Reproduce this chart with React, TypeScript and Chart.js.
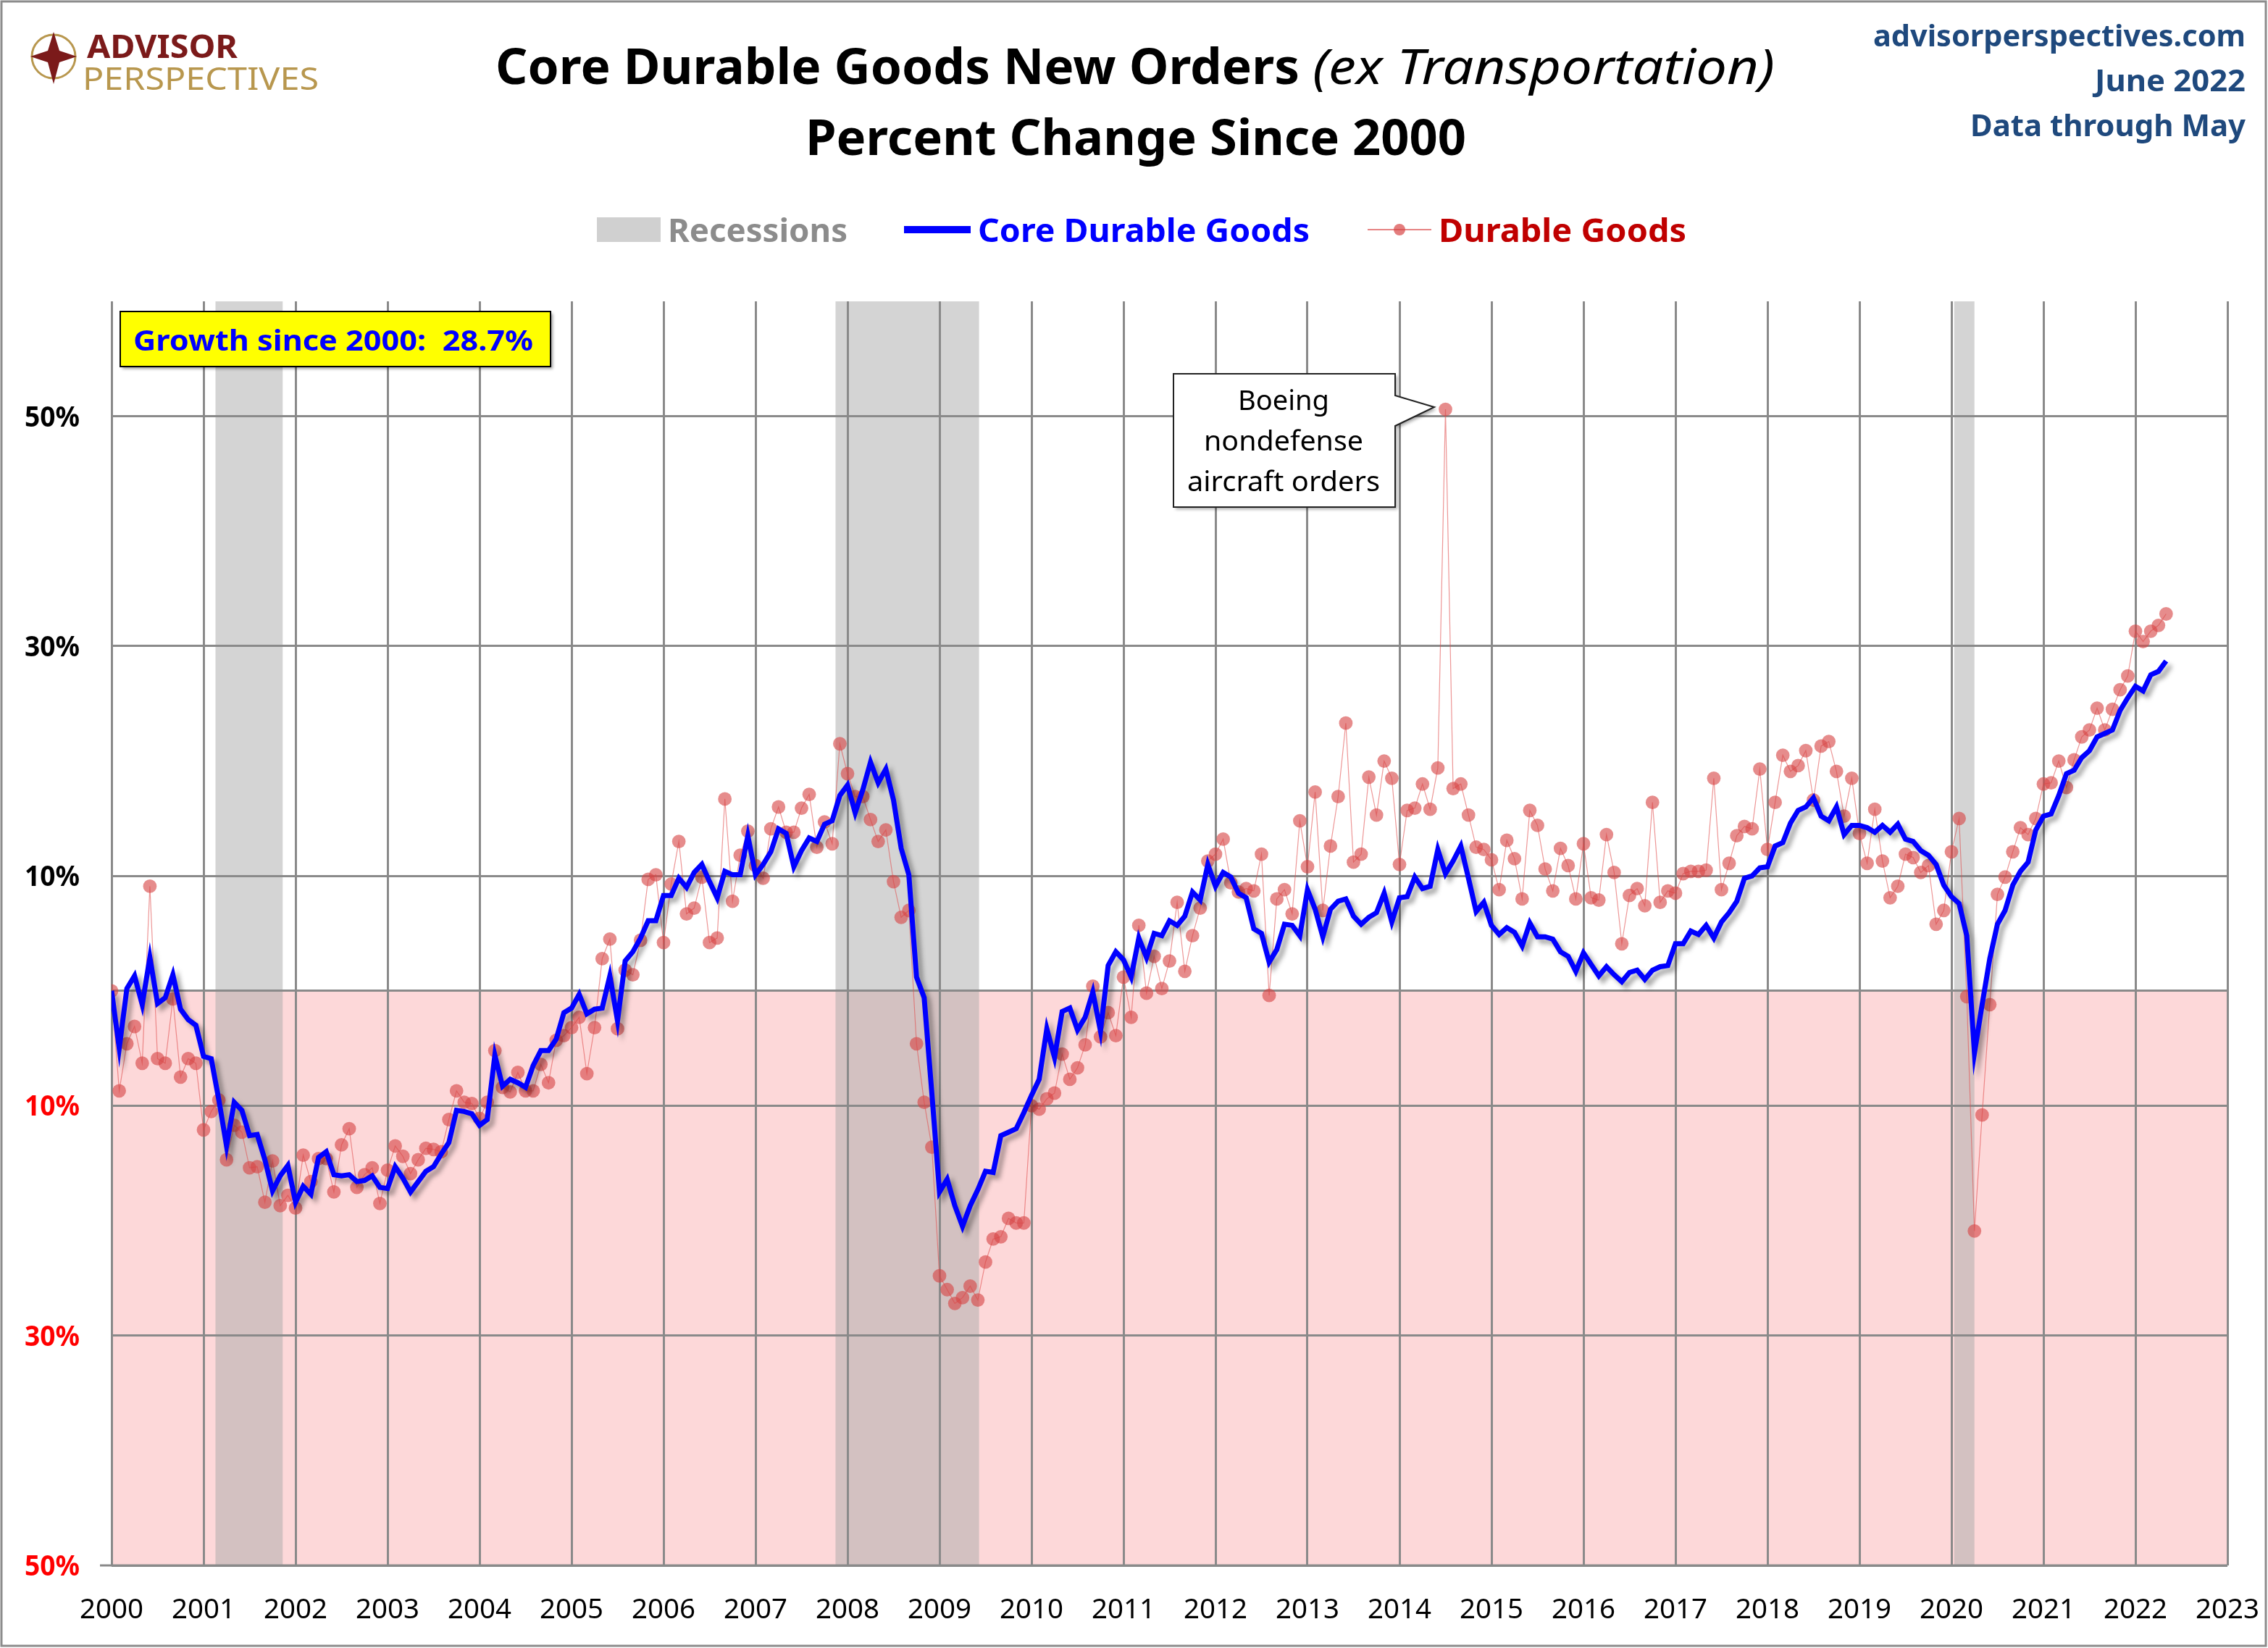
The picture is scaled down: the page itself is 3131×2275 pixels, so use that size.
import { useEffect, useRef } from 'react';
import { Chart, registerables } from 'chart.js';

Chart.register(...registerables);

// percent change since Jan 2000, monthly, Jan 2000 .. May 2022
const coreByYear: number[][] = [
  [0, -5, 0.2, 1.3, -1.2, 2.9, -1.1, -0.6, 1.4, -1.6, -2.5, -3.0],
  [-5.7, -5.9, -9.5, -13.5, -9.7, -10.4, -12.6, -12.5, -14.7, -17.4, -16.1, -15.2],
  [-18.4, -17, -17.7, -14.5, -14, -16, -16.1, -16, -16.6, -16.5, -16.1, -17.1],
  [-17.2, -15.3, -16.3, -17.5, -16.6, -15.7, -15.3, -14.2, -13.2, -10.4, -10.5, -10.7],
  [-11.7, -11.2, -5.6, -8.3, -7.7, -8, -8.4, -6.5, -5.2, -5.2, -4.2, -1.9],
  [-1.5, -0.3, -2.0, -1.6, -1.5, 1.3, -2.6, 2.6, 3.4, 4.6, 6.1, 6.1],
  [8.3, 8.3, 9.8, 9, 10.3, 11, 9.5, 8.1, 10.4, 10.1, 10.1, 13.5],
  [10.1, 11, 12.1, 14.1, 13.7, 10.8, 12.2, 13.3, 13, 14.5, 14.8, 17],
  [17.9, 15.5, 17.5, 19.9, 18.1, 19.3, 16.6, 12.4, 10.1, 1.2, -0.6, -8.9],
  [-17.5, -16.4, -18.7, -20.5, -18.7, -17.3, -15.7, -15.8, -12.6, -12.3, -12, -10.6],
  [-9.1, -7.7, -3.3, -5.8, -1.8, -1.5, -3.4, -2.3, -0.1, -3.5, 2.2, 3.4],
  [2.7, 1.2, 4.6, 2.9, 5, 4.8, 6.1, 5.7, 6.5, 8.6, 7.9, 11],
  [9.1, 10.3, 9.9, 8.5, 8.1, 5.4, 5, 2.5, 3.6, 5.8, 5.7, 4.8],
  [8.8, 7.1, 4.7, 7.1, 7.8, 8, 6.5, 5.8, 6.4, 6.8, 8.5, 6],
  [8.1, 8.2, 9.9, 8.9, 9.1, 12.3, 10.2, 11.3, 12.6, 9.8, 6.9, 7.7],
  [5.7, 4.9, 5.5, 5.1, 3.9, 5.9, 4.7, 4.7, 4.5, 3.4, 3, 1.7],
  [3.3, 2.3, 1.3, 2.1, 1.4, 0.8, 1.6, 1.8, 1, 1.8, 2.1, 2.2],
  [4.1, 4.1, 5.2, 4.9, 5.7, 4.6, 6, 6.8, 7.8, 9.8, 10, 10.7],
  [10.8, 12.6, 12.9, 14.6, 15.7, 16, 16.8, 15.2, 14.8, 16, 13.6, 14.4],
  [14.4, 14.2, 13.8, 14.4, 13.8, 14.5, 13.2, 13, 12.2, 11.8, 11, 9.2],
  [8.2, 7.6, 4.8, -5.4, -1.2, 2.8, 5.8, 7, 9.2, 10.4, 11.2, 14],
  [15.2, 15.4, 17, 18.9, 19.2, 20.3, 20.9, 22.1, 22.4, 22.7, 24.4, 25.5],
  [26.5, 26.1, 27.5, 27.8, 28.7],
];

const durableByYear: number[][] = [
  [0, -8.7, -4.6, -3.1, -6.3, 9.1, -5.9, -6.3, -0.7, -7.5, -5.9, -6.3],
  [-12.1, -10.5, -9.5, -14.7, -11.7, -12.3, -15.4, -15.3, -18.4, -14.8, -18.7, -17.8],
  [-18.9, -14.3, -16.6, -14.6, -14.6, -17.5, -13.4, -12, -17.1, -16, -15.4, -18.5],
  [-15.6, -13.5, -14.4, -15.9, -14.7, -13.7, -13.8, -14, -11.2, -8.7, -9.7, -9.8],
  [-11.1, -9.7, -5.2, -8.4, -8.8, -7.1, -8.7, -8.7, -6.4, -8, -4.3, -3.9],
  [-3.2, -2.3, -7.2, -3.2, 2.8, 4.5, -3.3, 1.8, 1.4, 4.4, 9.7, 10.1],
  [4.2, 9.3, 13, 6.7, 7.2, 9.9, 4.2, 4.6, 16.7, 7.8, 11.8, 13.9],
  [10.9, 9.8, 14.1, 16, 13.8, 13.8, 15.9, 17.1, 12.5, 14.7, 12.8, 21.5],
  [18.9, 16.9, 16.9, 14.9, 13, 14, 9.5, 6.4, 7, -4.6, -9.7, -13.6],
  [-24.8, -26, -27.2, -26.7, -25.7, -26.9, -23.6, -21.6, -21.4, -19.8, -20.2, -20.2],
  [-10, -10.3, -9.4, -8.9, -5.5, -7.7, -6.7, -4.7, 0.4, -4, -1.9, -3.9],
  [1.2, -2.3, 5.7, -0.2, 3, 0.2, 2.6, 7.7, 1.7, 4.8, 7.2, 11.3],
  [11.9, 13.2, 9.4, 8.6, 8.9, 8.7, 11.9, -0.4, 8, 8.8, 6.7, 14.8],
  [10.8, 17.3, 7, 12.6, 16.9, 23.3, 11.2, 11.9, 18.6, 15.3, 20, 18.5],
  [11, 15.7, 15.9, 18, 15.8, 19.4, 50.6, 17.6, 18, 15.3, 12.5, 12.3],
  [11.4, 8.8, 13.1, 11.5, 8, 15.7, 14.4, 10.6, 8.7, 12.4, 10.9, 8],
  [12.8, 8.1, 7.9, 13.6, 10.3, 4.1, 8.3, 8.9, 7.4, 16.4, 7.7, 8.7],
  [8.5, 10.2, 10.4, 10.4, 10.5, 18.5, 8.8, 11.1, 13.5, 14.3, 14.1, 19.3],
  [12.3, 16.4, 20.5, 19.1, 19.6, 20.9, 16.6, 21.3, 21.7, 19.1, 15.2, 18.5],
  [13.7, 11.1, 15.8, 11.3, 8.1, 9.1, 11.9, 11.6, 10.3, 10.9, 5.8, 7],
  [12.1, 15, -0.5, -20.9, -10.8, -1.2, 8.4, 9.9, 12.1, 14.2, 13.6, 15],
  [18, 18.1, 20, 17.7, 20.1, 22.1, 22.7, 24.6, 22.7, 24.5, 26.2, 27.4],
  [31.3, 30.4, 31.3, 31.8, 32.8],
];

const recessionStart = [2001.13, 2007.87, 2020.03];
const recessionEnd = [2001.86, 2009.43, 2020.25];
const yTicks = [-50, -30, -10, 0, 10, 30, 50];
const yearTicks = Array.from({ length: 24 }, (_, i) => 2000 + i);

const S = 2; // drawing scale: layout is worked out at half size

const toPoints = (rows: number[][]) =>
  rows.flat().map((v, i) => ({ x: 2000 + i / 12, y: v }));

function txt(ctx: CanvasRenderingContext2D, s: string, x: number, y: number,
  o: { size: number; weight?: string; style?: string; color: string; align?: CanvasTextAlign; w?: number }) {
  ctx.save();
  ctx.font = `${o.style || 'normal'} ${o.weight || 'normal'} ${o.size}px "Noto Sans"`;
  ctx.fillStyle = o.color;
  ctx.textBaseline = 'alphabetic';
  ctx.textAlign = o.align || 'left';
  ctx.translate(x, y);
  if (o.w) {
    const m = ctx.measureText(s).width;
    ctx.scale(o.w / m, 1);
  }
  ctx.fillText(s, 0, 0);
  ctx.restore();
}

const decor = {
  id: 'decor',
  beforeDraw(chart: any) {
    const { ctx, chartArea: a, scales } = chart;
    const x = scales.x, y = scales.y;
    ctx.save();
    ctx.fillStyle = '#ffffff';
    ctx.fillRect(0, 0, chart.width, chart.height);
    const y0 = y.getPixelForValue(0);
    ctx.fillStyle = '#fdd8d9';
    ctx.fillRect(a.left, y0, a.right - a.left, a.bottom - y0);
    ctx.fillStyle = 'rgba(170,170,170,0.5)';
    recessionStart.forEach((s, i) => {
      const l = x.getPixelForValue(s), r = x.getPixelForValue(recessionEnd[i]);
      ctx.fillRect(l, a.top, r - l, a.bottom - a.top);
    });
    ctx.restore();
  },
  beforeDatasetDraw(chart: any, args: any) {
    if (args.index === 0) {
      const ctx = chart.ctx;
      ctx.save();
      ctx.shadowColor = 'rgba(0,0,0,0.35)';
      ctx.shadowOffsetX = 3 * S;
      ctx.shadowOffsetY = 3 * S;
      ctx.shadowBlur = 3 * S;
    }
  },
  afterDatasetDraw(chart: any, args: any) {
    if (args.index === 0) chart.ctx.restore();
  },
  afterDraw(chart: any) {
    const { ctx, scales, chartArea: a } = chart;
    const x = scales.x, y = scales.y;
    ctx.save();
    // bottom axis line with its short left tick
    ctx.strokeStyle = '#8a8a8a';
    ctx.lineWidth = 1.5 * S;
    ctx.beginPath();
    ctx.moveTo(69 * S, a.bottom); ctx.lineTo(a.right, a.bottom);
    ctx.stroke();
    // axis labels
    yTicks.forEach((v) => {
      if (v === 0) return;
      txt(ctx, `${Math.abs(v)}%`, 55 * S, y.getPixelForValue(v) + 7 * S,
        { size: 20 * S, weight: 'bold', color: v < 0 ? '#ff0000' : '#000000', align: 'right', w: 38 * S });
    });
    yearTicks.forEach((v) => {
      txt(ctx, String(v), x.getPixelForValue(v), 1117 * S,
        { size: 19 * S, color: '#000000', align: 'center', w: 44 * S });
    });
    ctx.scale(S, S);
    // frame
    ctx.strokeStyle = '#8c8c8c';
    ctx.lineWidth = 1.5;
    ctx.strokeRect(1, 1, 1563, 1135);
    // titles
    txt(ctx, 'Core Durable Goods New Orders', 342, 58, { size: 34, weight: 'bold', color: '#000', w: 555 });
    txt(ctx, '(ex Transportation)', 906, 58, { size: 34, style: 'italic', color: '#000', w: 319 });
    txt(ctx, 'Percent Change Since 2000', 556, 107, { size: 34, weight: 'bold', color: '#000', w: 456 });
    txt(ctx, 'advisorperspectives.com', 1550, 32, { size: 21, weight: 'bold', color: '#1f497d', align: 'right', w: 257 });
    txt(ctx, 'June 2022', 1550, 63, { size: 21, weight: 'bold', color: '#1f497d', align: 'right', w: 104 });
    txt(ctx, 'Data through May', 1550, 94, { size: 21, weight: 'bold', color: '#1f497d', align: 'right', w: 190 });
    // logo
    ctx.strokeStyle = '#b8974e';
    ctx.lineWidth = 1.5;
    ctx.beginPath();
    ctx.arc(37, 39, 15, 0, Math.PI * 2);
    ctx.stroke();
    ctx.fillStyle = '#7b1a1a';
    ctx.beginPath();
    ctx.moveTo(37, 22); ctx.lineTo(41, 35); ctx.lineTo(53, 39); ctx.lineTo(41, 43);
    ctx.lineTo(37, 58); ctx.lineTo(33, 43); ctx.lineTo(21, 39); ctx.lineTo(33, 35);
    ctx.closePath();
    ctx.fill();
    txt(ctx, 'ADVISOR', 60, 40, { size: 22, weight: 'bold', color: '#7b1a1a', w: 104 });
    txt(ctx, 'PERSPECTIVES', 57, 62, { size: 22, color: '#b8974e', w: 163 });
    // legend
    ctx.fillStyle = '#d0d0d0';
    ctx.fillRect(412, 150, 44, 17);
    txt(ctx, 'Recessions', 461, 167, { size: 22, weight: 'bold', color: '#8c8c8c', w: 124 });
    ctx.fillStyle = '#0000ff';
    ctx.fillRect(624, 156, 46, 5);
    txt(ctx, 'Core Durable Goods', 675, 167, { size: 22, weight: 'bold', color: '#0000ff', w: 229 });
    ctx.strokeStyle = 'rgba(220,80,80,0.7)';
    ctx.lineWidth = 1;
    ctx.beginPath(); ctx.moveTo(944, 158.5); ctx.lineTo(988, 158.5); ctx.stroke();
    ctx.fillStyle = 'rgba(215,70,70,0.7)';
    ctx.beginPath(); ctx.arc(966, 158.5, 4, 0, Math.PI * 2); ctx.fill();
    txt(ctx, 'Durable Goods', 993, 167, { size: 22, weight: 'bold', color: '#c00000', w: 171 });
    // growth box
    ctx.save();
    ctx.shadowColor = 'rgba(0,0,0,0.4)';
    ctx.shadowOffsetX = 3; ctx.shadowOffsetY = 3; ctx.shadowBlur = 4;
    ctx.fillStyle = '#ffff00';
    ctx.fillRect(83, 215, 297, 38);
    ctx.restore();
    ctx.strokeStyle = '#000'; ctx.lineWidth = 1;
    ctx.strokeRect(83, 215, 297, 38);
    txt(ctx, 'Growth since 2000:  28.7%', 92, 242, { size: 20, weight: 'bold', color: '#0000ff', w: 276 });
    // callout
    ctx.save();
    ctx.shadowColor = 'rgba(0,0,0,0.35)';
    ctx.shadowOffsetX = 3; ctx.shadowOffsetY = 3; ctx.shadowBlur = 4;
    ctx.fillStyle = '#ffffff';
    ctx.beginPath();
    ctx.moveTo(810, 258); ctx.lineTo(963, 258); ctx.lineTo(963, 273); ctx.lineTo(990, 281);
    ctx.lineTo(963, 294); ctx.lineTo(963, 350); ctx.lineTo(810, 350); ctx.closePath();
    ctx.fill();
    ctx.restore();
    ctx.strokeStyle = '#222'; ctx.lineWidth = 1;
    ctx.stroke();
    txt(ctx, 'Boeing', 886, 283, { size: 19, color: '#000', align: 'center', w: 63 });
    txt(ctx, 'nondefense', 886, 311, { size: 19, color: '#000', align: 'center', w: 110 });
    txt(ctx, 'aircraft orders', 886, 339, { size: 19, color: '#000', align: 'center', w: 133 });
    ctx.restore();
  },
};

export default function App() {
  const chartRef = useRef<HTMLCanvasElement | null>(null);
  const chartInstance = useRef<Chart | null>(null);

  useEffect(() => {
    document.body.style.margin = '0';
    if (!chartRef.current) return;
    const ctx = chartRef.current.getContext('2d');
    if (!ctx) return;
    chartInstance.current = new Chart(ctx, {
      type: 'line',
      data: {
        datasets: [
          {
            label: 'Core Durable Goods',
            data: toPoints(coreByYear),
            borderColor: '#0000ff',
            borderWidth: 3.5 * S,
            pointRadius: 0,
            tension: 0,
            order: 0,
          },
          {
            label: 'Durable Goods',
            data: toPoints(durableByYear),
            borderColor: 'rgba(225,80,80,0.6)',
            borderWidth: 0.6 * S,
            pointRadius: 4.7 * S,
            pointBackgroundColor: 'rgba(215,70,70,0.62)',
            pointBorderWidth: 0,
            tension: 0,
            order: 1,
          },
        ],
      },
      options: {
        animation: false,
        responsive: true,
        maintainAspectRatio: false,
        devicePixelRatio: 1,
        layout: { padding: { left: 77 * S, right: 28 * S, top: 208 * S, bottom: 57 * S } },
        plugins: { legend: { display: false }, tooltip: { enabled: false } },
        scales: {
          x: {
            type: 'linear',
            min: 2000,
            max: 2023,
            afterBuildTicks: (s: any) => { s.ticks = yearTicks.map((v) => ({ value: v })); },
            ticks: { display: false },
            grid: { color: '#8a8a8a', lineWidth: 1.5 * S, drawTicks: false },
            border: { display: false },
          },
          y: {
            type: 'linear',
            min: -50,
            max: 60,
            afterBuildTicks: (s: any) => { s.ticks = yTicks.map((v) => ({ value: v })); },
            ticks: { display: false },
            grid: { color: '#8a8a8a', lineWidth: 1.5 * S, drawTicks: false },
            border: { display: false },
          },
        },
      },
      plugins: [decor],
    });
    return () => {
      chartInstance.current?.destroy();
    };
  }, []);

  return (
    <div style={{ position: 'absolute', left: 0, top: 0, width: 3131, height: 2275 }}>
      <canvas ref={chartRef} />
    </div>
  );
}
